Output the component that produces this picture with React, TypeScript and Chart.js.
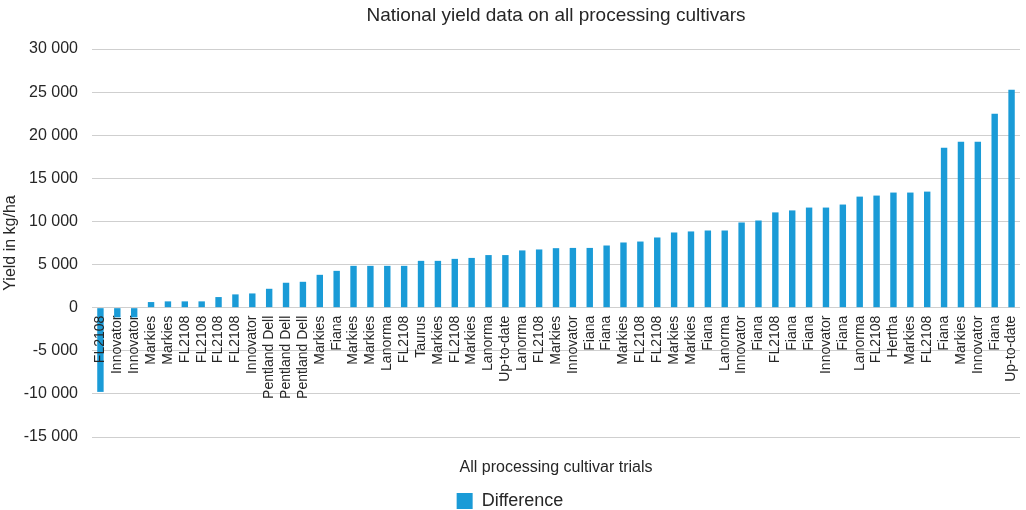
import React, { useEffect, useRef } from "react";
import { Chart, registerables } from "chart.js";

Chart.register(...registerables);

const chartTitle = "National yield data on all processing cultivars";
const yAxisTitle = "Yield in kg/ha";
const xAxisTitle = "All processing cultivar trials";
const seriesName = "Difference";

const categories = [
  "FL2108", "Innovator", "Innovator", "Markies", "Markies", "FL2108", "FL2108", "FL2108", "FL2108", "Innovator",
  "Pentland Dell", "Pentland Dell", "Pentland Dell", "Markies", "Fiana", "Markies", "Markies", "Lanorma", "FL2108", "Taurus",
  "Markies", "FL2108", "Markies", "Lanorma", "Up-to-date", "Lanorma", "FL2108", "Markies", "Innovator", "Fiana",
  "Fiana", "Markies", "FL2108", "FL2108", "Markies", "Markies", "Fiana", "Lanorma", "Innovator", "Fiana",
  "FL2108", "Fiana", "Fiana", "Innovator", "Fiana", "Lanorma", "FL2108", "Hertha", "Markies", "FL2108",
  "Fiana", "Markies", "Innovator", "Fiana", "Up-to-date",
];

const differenceValues = [
  -9770, -1120, -1120, 650, 730, 730, 730, 1230, 1540, 1650,
  2190, 2890, 3000, 3810, 4270, 4850, 4850, 4850, 4850, 5430,
  5430, 5660, 5770, 6100, 6100, 6640, 6750, 6900, 6930, 6930,
  7210, 7560, 7670, 8140, 8720, 8840, 8950, 8950, 9880, 10110,
  11050, 11280, 11610, 11610, 11960, 12880, 13000, 13350, 13350, 13460,
  18550, 19250, 19250, 22490, 25270,
];

const yMin = -15000;
const yMax = 30000;
const yStep = 5000;

const BAR_COLOR = "#1a9bd7";
const TEXT_COLOR = "#262626";
const GRID_COLOR = "#cfcfcf";
const FONT_FAMILY = "'Liberation Sans', Arial, Helvetica, sans-serif";

Chart.defaults.font.family = FONT_FAMILY;

function formatThousands(v: number): string {
  const s = Math.abs(v).toString().replace(/\B(?=(\d{3})+(?!\d))/g, " ");
  return (v < 0 ? "-" : "") + s;
}

// Title centred on the plot area (as in the reference), not on the canvas.
const plotTitlePlugin = {
  id: "plotTitle",
  afterDraw(chart: any) {
    const { ctx, chartArea } = chart;
    ctx.save();
    ctx.font = `19px ${FONT_FAMILY}`;
    ctx.fillStyle = TEXT_COLOR;
    ctx.textAlign = "center";
    ctx.textBaseline = "middle";
    ctx.fillText(chartTitle, (chartArea.left + chartArea.right) / 2, 15.5);
    ctx.restore();
  },
};

export default function App() {
  const canvasRef = useRef<HTMLCanvasElement | null>(null);

  useEffect(() => {
    if (!canvasRef.current) return;
    const chart = new Chart(canvasRef.current, {
      type: "bar",
      data: {
        labels: categories,
        datasets: [
          {
            label: seriesName,
            data: differenceValues,
            backgroundColor: BAR_COLOR,
            borderWidth: 0,
            barPercentage: 0.38,
            categoryPercentage: 1.0,
            xAxisID: "x",
            yAxisID: "y",
          },
        ],
      },
      plugins: [plotTitlePlugin],
      options: {
        animation: false,
        responsive: true,
        maintainAspectRatio: false,
        layout: { padding: { left: 0, right: 6, top: 49, bottom: 0 } },
        plugins: {
          title: { display: false },
          legend: {
            position: "bottom",
            labels: {
              boxWidth: 16,
              boxHeight: 16,
              padding: 10,
              color: TEXT_COLOR,
              font: { size: 18 },
            },
          },
          tooltip: { enabled: false },
        },
        scales: {
          x: {
            type: "category",
            position: { y: 0 } as any,
            grid: { display: false, drawTicks: false },
            border: { display: false },
            ticks: {
              autoSkip: false,
              minRotation: 90,
              maxRotation: 90,
              padding: 8,
              color: TEXT_COLOR,
              font: { size: 14 },
              z: 1,
            },
            afterFit: (scale: any) => {
              scale.paddingLeft = 0;
              scale.paddingRight = 0;
            },
          },
          x2: {
            type: "category",
            position: "bottom",
            labels: categories,
            grid: { display: false, drawTicks: false },
            border: { display: false },
            ticks: { display: false },
            title: {
              display: true,
              text: xAxisTitle,
              color: TEXT_COLOR,
              font: { size: 16 },
              padding: { top: 21, bottom: 4.8 },
            },
          },
          y: {
            min: yMin,
            max: yMax,
            grid: { color: GRID_COLOR, lineWidth: 1, drawTicks: false },
            border: { display: false },
            ticks: {
              stepSize: yStep,
              padding: 14,
              color: TEXT_COLOR,
              font: { size: 16 },
              callback: (v: any) => formatThousands(Number(v)),
            },
            title: {
              display: true,
              text: yAxisTitle,
              color: TEXT_COLOR,
              font: { size: 16 },
              padding: { top: 1.4, bottom: 4 },
            },
            afterFit: (scale: any) => {
              scale.width = 92;
            },
          },
        },
      },
    });
    return () => chart.destroy();
  }, []);

  return (
    <div style={{ position: "fixed", left: 0, top: 0, width: 1026, height: 520 }}>
      <canvas ref={canvasRef} />
    </div>
  );
}
